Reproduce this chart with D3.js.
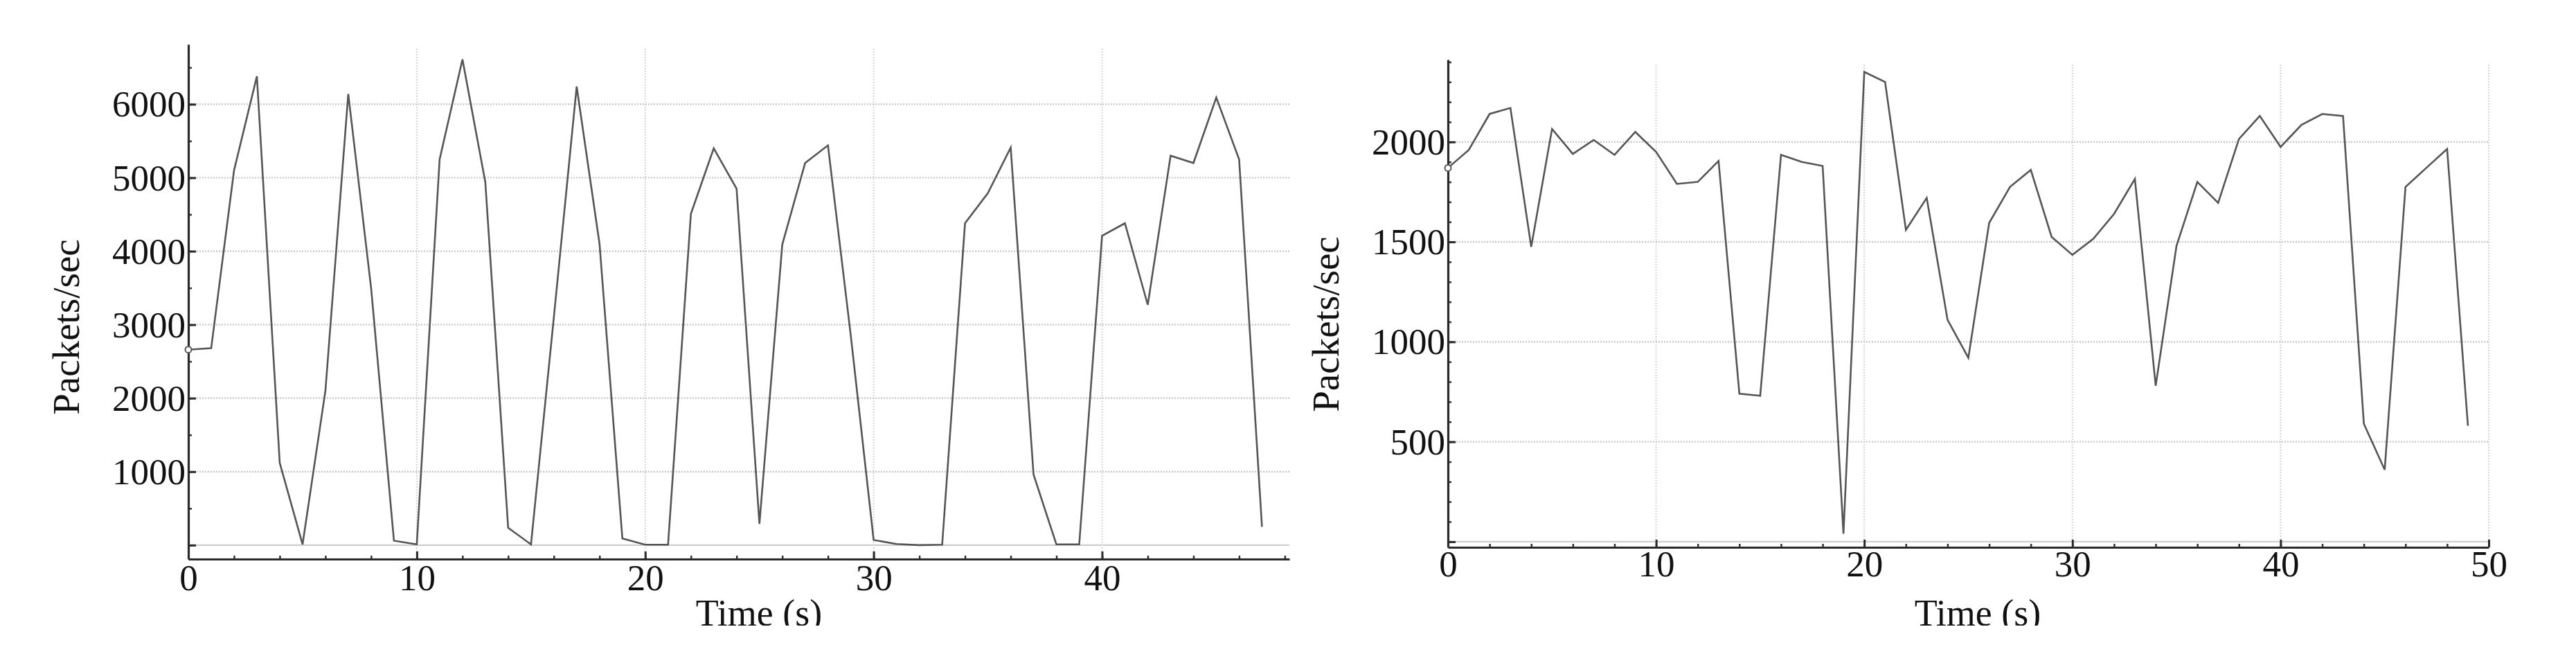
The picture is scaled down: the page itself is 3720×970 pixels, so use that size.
<!DOCTYPE html>
<html>
<head>
<meta charset="utf-8">
<script src="https://cdn.jsdelivr.net/npm/d3@7"></script>
<style>
  html, body { margin: 0; padding: 0; background: #fff; }
  svg { display: block; }
  text { font-family: "Liberation Serif", "Times New Roman", serif; fill: #111; }
</style>
</head>
<body>
<svg id="chart" width="3720" height="970"></svg>
<script>
// ---------------- data ----------------
// Left panel: packets/sec for each second 0..47
const leftValues = [
  2660, 2680, 5100, 6380, 1120, 10, 2100, 6140, 3500, 60,
  10, 5250, 6610, 4940, 235, 10, 3100, 6240, 4100, 90,
  5, 5, 4510, 5400, 4850, 290, 4090, 5200, 5440, 2850,
  70, 15, 0, 5, 4380, 4790, 5410, 960, 10, 10,
  4210, 4380, 3270, 5300, 5200, 6090, 5250, 250
];
// Right panel: packets/sec for each second 0..49
const rightValues = [
  1870, 1960, 2140, 2170, 1475, 2065, 1940, 2010, 1935, 2050,
  1950, 1790, 1800, 1905, 740, 730, 1935, 1900, 1880, 40,
  2350, 2300, 1560, 1720, 1110, 920, 1595, 1775, 1860, 1525,
  1435, 1515, 1640, 1815, 780, 1480, 1800, 1695, 2015, 2130,
  1975, 2085, 2140, 2130, 590, 360, 1775, 1870, 1965, 580
];
const leftXTicks = [0, 10, 20, 30, 40];
const leftYTicks = [0, 1000, 2000, 3000, 4000, 5000, 6000];
const rightXTicks = [0, 10, 20, 30, 40, 50];
const rightYTicks = [0, 500, 1000, 1500, 2000];
const xTitle = "Time (s)";
const yTitle = "Packets/sec";

// ---------------- drawing ----------------
const svg = d3.select("#chart");
const defs = svg.append("defs");

function panel(cfg) {
  const g = svg.append("g");
  const x = d3.scaleLinear().domain(cfg.xDomain).range(cfg.xRange);
  const y = d3.scaleLinear().domain(cfg.yDomain).range(cfg.yRange);
  const gridTop = cfg.yRange[1] + cfg.gridTopPad;

  // vertical dotted grid
  g.append("g").selectAll("line")
    .data(cfg.xTicks.filter(d => d > 0))
    .join("line")
    .attr("x1", d => x(d)).attr("x2", d => x(d))
    .attr("y1", gridTop).attr("y2", cfg.yRange[0])
    .attr("stroke", "#d6d6d6").attr("stroke-width", 2)
    .attr("stroke-dasharray", "2 2");

  // horizontal dotted grid
  g.append("g").selectAll("line")
    .data(cfg.yTicks.filter(d => d > 0))
    .join("line")
    .attr("x1", cfg.xRange[0]).attr("x2", cfg.xRange[1])
    .attr("y1", d => y(d)).attr("y2", d => y(d))
    .attr("stroke", "#c6c6c6").attr("stroke-width", 2.2)
    .attr("stroke-dasharray", "2 2");

  // zero line
  g.append("line")
    .attr("x1", cfg.xRange[0]).attr("x2", cfg.xRange[1])
    .attr("y1", y(0)).attr("y2", y(0))
    .attr("stroke", "#cfcfcf").attr("stroke-width", 2.2);

  // minor ticks
  const xMinor = d3.axisBottom(x)
    .tickValues(d3.range(0, cfg.xDomain[1] + 0.001, 2))
    .tickSize(-5).tickSizeOuter(0).tickFormat("");
  const xMinorG = g.append("g").attr("transform", `translate(0,${cfg.yRange[0]})`).call(xMinor);
  xMinorG.select(".domain").remove();
  xMinorG.selectAll("line").attr("stroke", "#333").attr("stroke-width", 2.5);

  const yMinor = d3.axisLeft(y)
    .tickValues(d3.range(0, cfg.yDomain[1], cfg.yMinorStep))
    .tickSize(-5).tickSizeOuter(0).tickFormat("");
  const yMinorG = g.append("g").attr("transform", `translate(${cfg.xRange[0]},0)`).call(yMinor);
  yMinorG.select(".domain").remove();
  yMinorG.selectAll("line").attr("stroke", "#333").attr("stroke-width", 2.5);

  // major axes
  const xAxis = d3.axisBottom(x).tickValues(cfg.xTicks)
    .tickSize(-11).tickSizeOuter(0).tickPadding(cfg.xPad);
  const xg = g.append("g").attr("transform", `translate(0,${cfg.yRange[0]})`).call(xAxis);
  xg.select(".domain").attr("stroke", "#2a2a2a").attr("stroke-width", 3.2);
  xg.selectAll("line").attr("stroke", "#2a2a2a").attr("stroke-width", 3);
  xg.selectAll("text").attr("font-size", 53).style("font-family", "Liberation Serif").attr("fill", "#111");

  const yAxis = d3.axisLeft(y).tickValues(cfg.yTicks)
    .tickSize(-11).tickSizeOuter(0).tickPadding(4)
    .tickFormat(d => d === 0 ? "" : d);
  const yg = g.append("g").attr("transform", `translate(${cfg.xRange[0]},0)`).call(yAxis);
  yg.select(".domain").attr("stroke", "#2a2a2a").attr("stroke-width", 3.2);
  yg.selectAll("line").attr("stroke", "#2a2a2a").attr("stroke-width", 3);
  yg.selectAll("text").attr("font-size", 53).attr("dy", "0.33em")
    .style("font-family", "Liberation Serif").attr("fill", "#111");

  // data line
  const line = d3.line().x((d, i) => x(i)).y(d => y(d));
  g.append("path").datum(cfg.values)
    .attr("d", line)
    .attr("fill", "none")
    .attr("stroke", "#555")
    .attr("stroke-width", 2.6)
    .attr("stroke-linejoin", "miter");

  // marker on first point
  g.append("circle")
    .attr("cx", x(0)).attr("cy", y(cfg.values[0])).attr("r", 4.5)
    .attr("fill", "#fff").attr("stroke", "#555").attr("stroke-width", 2);

  // x title (cropped at bottom like the source)
  const clipId = "clip" + cfg.id;
  defs.append("clipPath").attr("id", clipId)
    .append("rect").attr("x", 0).attr("y", 0).attr("width", 3720).attr("height", cfg.xTitleY);
  g.append("text")
    .attr("x", cfg.xTitleX).attr("y", cfg.xTitleY)
    .attr("text-anchor", "middle").attr("font-size", 54)
    .attr("clip-path", `url(#${clipId})`)
    .text(xTitle);

  // y title
  g.append("text")
    .attr("transform", `translate(${cfg.yTitleX},${cfg.yTitleY}) rotate(-90)`)
    .attr("text-anchor", "middle").attr("font-size", 55)
    .text(yTitle);
}

panel({
  id: "L",
  values: leftValues,
  xDomain: [0, 48.2], xRange: [272, 1862],
  yDomain: [-190, 6815], yRange: [807, 64],
  xTicks: leftXTicks, yTicks: leftYTicks, yMinorStep: 500,
  gridTopPad: 6, xPad: 7,
  xTitleX: 1096, xTitleY: 903,
  yTitleX: 114, yTitleY: 472
});

panel({
  id: "R",
  values: rightValues,
  xDomain: [0, 50], xRange: [2091, 3594],
  yDomain: [-28, 2412], yRange: [790, 86],
  xTicks: rightXTicks, yTicks: rightYTicks, yMinorStep: 100,
  gridTopPad: 7, xPad: 4,
  xTitleX: 2856, xTitleY: 903,
  yTitleX: 1933, yTitleY: 468
});
</script>
</body>
</html>
